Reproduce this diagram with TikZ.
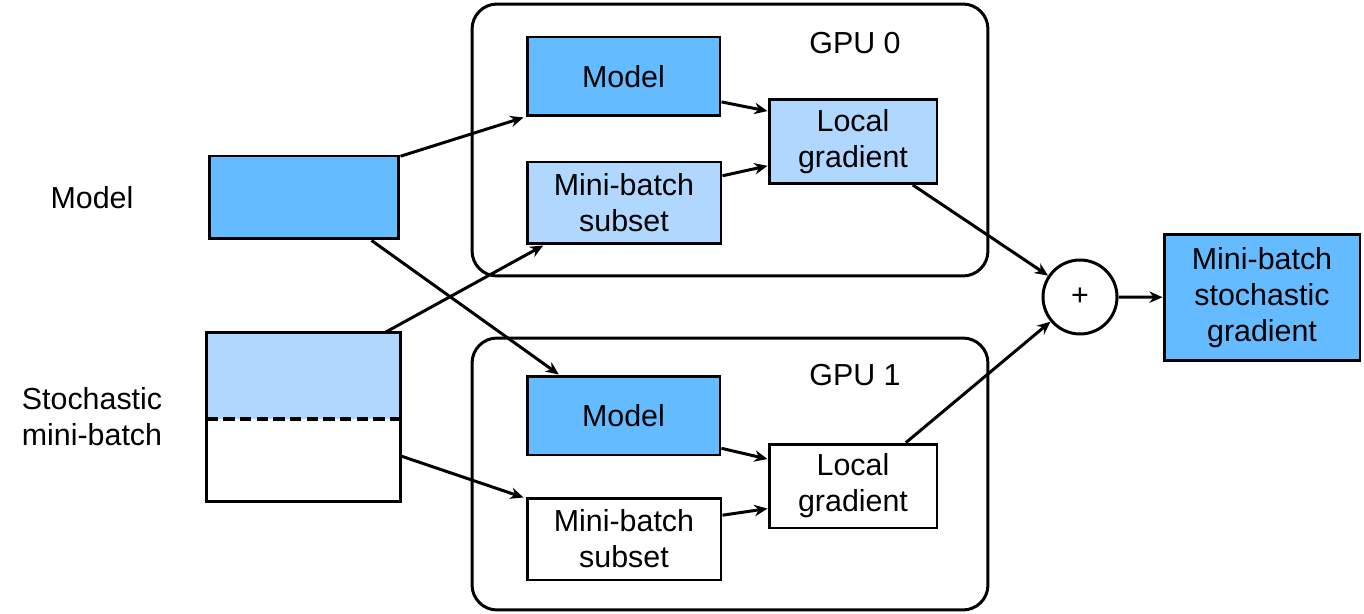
\documentclass[tikz,border=0pt]{standalone}
\usepackage{fontspec}
\setmainfont{Liberation Sans}
\usepackage{xcolor}
\usetikzlibrary{arrows.meta,calc}

\definecolor{darkblue}{RGB}{100,187,255}
\definecolor{lightblue}{RGB}{176,216,255}

\begin{document}
\begin{tikzpicture}[x=0.02cm,y=-0.02cm,>={Stealth[length=7.5pt,width=6.5pt]},
		line width=1.7pt,
		font=\fontsize{17.3}{20.5}\selectfont,
		box/.style={draw, rectangle, inner sep=0pt, align=center},
		gpu/.style={draw, rectangle, rounded corners=0.5cm, minimum width=10.32cm, minimum height=5.44cm},
		conn/.style={->}]
		\useasboundingbox (0,0) rectangle (1364,614);
		% GPU containers
		\node [gpu] (gpu0) at (730,140) {};
		\node [gpu] (gpu1) at (730,474) {};
		\node (gpulab0) at (855,43) {GPU 0};
		\node (gpulab1) at (855,375) {GPU 1};
		% inputs
		\node (mdllab) at (92,198) {Model};
		\node [align=center] (batchlab) at (92,417) {Stochastic\\mini-batch};
		\node [box, fill=darkblue, minimum width=3.8cm, minimum height=1.66cm] (mdl) at (304,197.5) {};
		\node [box, draw=none, minimum width=3.82cm, minimum height=3.32cm] (batch) at (303.5,417) {};
		\coordinate (split) at (0,419);
		\fill [lightblue] (batch.north west) rectangle (batch.east |- split);
		\draw [dash pattern=on 6.5pt off 3pt, line width=1.9pt] (batch.west |- split) -- (batch.east |- split);
		\draw (batch.north west) rectangle (batch.south east);
		% GPU 0
		\node [box, fill=darkblue, minimum width=3.86cm, minimum height=1.58cm] (model0) at (623.5,76.5) {Model};
		\node [box, fill=lightblue, minimum width=3.88cm, minimum height=1.64cm] (mb0) at (624,203) {Mini-batch\\subset};
		\node [box, fill=lightblue, minimum width=3.36cm, minimum height=1.68cm] (lg0) at (853,141.5) {Local\\gradient};
		% GPU 1
		\node [box, fill=darkblue, minimum width=3.86cm, minimum height=1.58cm] (model1) at (623.5,415.5) {Model};
		\node [box, fill=white, minimum width=3.88cm, minimum height=1.64cm] (mb1) at (624,539) {Mini-batch\\subset};
		\node [box, fill=white, minimum width=3.36cm, minimum height=1.68cm] (lg1) at (853,486) {Local\\gradient};
		% sum and result
		\node [draw, circle, minimum size=1.48cm, inner sep=0pt] (plus) at (1080,297) {+};
		\node [box, fill=darkblue, minimum width=3.92cm, minimum height=2.54cm] (out) at (1262,297.5) {Mini-batch\\stochastic\\gradient};
		% connectors
		\draw [conn] ($(mdl.north east)!0.02!(mdl.south east)$) -- ($(model0.south west)+(-2,0)$);
		\draw [conn] ($(mdl.south west)!0.85!(mdl.south east)$) -- ($(model1.north west)!0.17!(model1.north east)$);
		\draw [conn] ($(batch.north west)!0.92!(batch.north east)$) -- ($(mb0.south west)!0.09!(mb0.south east)$);
		\draw [conn] ($(batch.north east)!0.73!(batch.south east)$) -- ($(mb1.north west)+(-2,1)$);
		\draw [conn] ($(model0.north east)!0.81!(model0.south east)$) -- ($(lg0.north west)!0.15!(lg0.south west)$);
		\draw [conn] ($(mb0.north east)!0.18!(mb0.south east)$) -- ($(lg0.north west)!0.78!(lg0.south west)$);
		\draw [conn] ($(model1.north east)!0.9!(model1.south east)$) -- ($(lg1.north west)!0.19!(lg1.south west)$);
		\draw [conn] ($(mb1.north east)!0.22!(mb1.south east)$) -- ($(lg1.north west)!0.76!(lg1.south west)$);
		\draw [conn] ($(lg0.south west)!0.85!(lg0.south east)$) -- (plus);
		\draw [conn] ($(lg1.north west)!0.81!(lg1.north east)$) -- (plus);
		\draw [conn] (plus) -- (out);
	\end{tikzpicture}
\end{document}
